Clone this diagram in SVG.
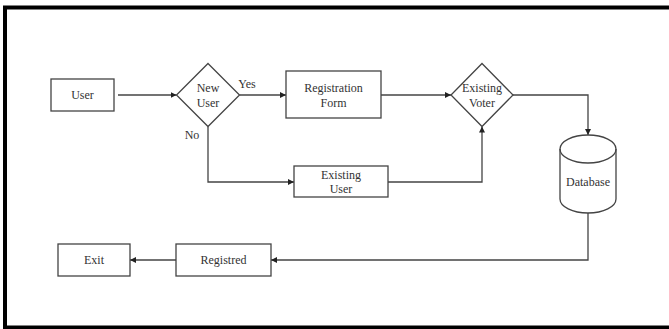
<svg xmlns="http://www.w3.org/2000/svg" width="669" height="329" viewBox="0 0 669 329">
<defs>
<marker id="ah" viewBox="0 0 10 10" refX="10" refY="5" markerWidth="6" markerHeight="6" markerUnits="userSpaceOnUse" orient="auto">
<path d="M0,0 L10,5 L0,10 Z" fill="#222"/>
</marker>
</defs>
<style>
.shape{fill:#fff;stroke:#444;stroke-width:1.3}
.conn{fill:none;stroke:#444;stroke-width:1.3}
text{font-family:"Liberation Serif","Times New Roman",serif;font-size:12px;fill:#333;text-anchor:middle;dominant-baseline:central}
</style>
<rect x="0" y="0" width="669" height="329" fill="#fff"/>
<rect x="5" y="7.5" width="680" height="320" fill="none" stroke="#000" stroke-width="4"/>
<g id="connectors">
<line class="conn" x1="118" y1="95" x2="176.5" y2="95" marker-end="url(#ah)"/>
<line class="conn" x1="239.5" y1="95" x2="286" y2="95" marker-end="url(#ah)"/>
<line class="conn" x1="381" y1="95" x2="451" y2="95" marker-end="url(#ah)"/>
<polyline class="conn" points="513,95 588,95 588,135" marker-end="url(#ah)"/>
<polyline class="conn" points="208,126.5 208,182 294,182" marker-end="url(#ah)"/>
<polyline class="conn" points="388,182 482,182 482,126.5" marker-end="url(#ah)"/>
<polyline class="conn" points="588,213 588,260 271,260" marker-end="url(#ah)"/>
<line class="conn" x1="176" y1="260" x2="130" y2="260" marker-end="url(#ah)"/>
<text x="247" y="84">Yes</text>
<text x="192" y="135">No</text>
</g>
<g id="user">
<rect class="shape" x="51" y="79" width="63" height="32"/>
<text x="82.5" y="95">User</text>
</g>
<g id="new-user">
<polygon class="shape" points="208,63.5 239.5,95 208,126.5 176.5,95"/>
<text x="208" y="88">New</text>
<text x="208" y="103">User</text>
</g>
<g id="registration-form">
<rect class="shape" x="286" y="71" width="95" height="47"/>
<text x="333.5" y="88">Registration</text>
<text x="333.5" y="103">Form</text>
</g>
<g id="existing-voter">
<polygon class="shape" points="482,63.5 513,95 482,126.5 451,95"/>
<text x="482" y="88">Existing</text>
<text x="482" y="103">Voter</text>
</g>
<g id="existing-user">
<rect class="shape" x="294" y="166" width="94" height="31"/>
<text x="341" y="175">Existing</text>
<text x="341" y="189">User</text>
</g>
<g id="database">
<path class="shape" d="M560,149 A28,14 0 0 1 616,149 L616,199 A28,14 0 0 1 560,199 Z"/>
<path class="conn" d="M560,149 A28,14 0 0 0 616,149"/>
<text x="588" y="182">Database</text>
</g>
<g id="registred">
<rect class="shape" x="176" y="244" width="95" height="32"/>
<text x="223.5" y="260">Registred</text>
</g>
<g id="exit">
<rect class="shape" x="58" y="244" width="72" height="32"/>
<text x="94" y="260">Exit</text>
</g>
</svg>
